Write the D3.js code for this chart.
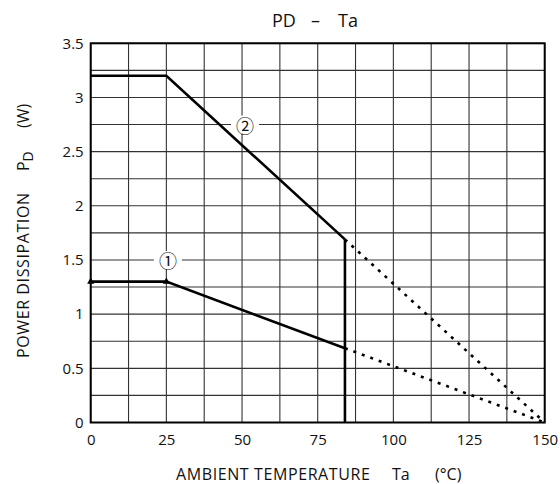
<!DOCTYPE html>
<html><head><meta charset="utf-8">
<script src="https://cdn.jsdelivr.net/npm/d3@7"></script>
<style>body{margin:0;background:#fff}svg{display:block}text{font-family:"Open Sans",sans-serif;fill:#111}</style>
</head><body>
<script>
const xTicks = [0, 25, 50, 75, 100, 125, 150];
const yTicks = [0, 0.5, 1, 1.5, 2, 2.5, 3, 3.5];
const xGrid = d3.range(0, 150.1, 12.5);
const yGrid = d3.range(0, 3.51, 0.25);
// curve 2 (solid + dotted)
const c2Solid = [[0, 3.2], [25, 3.2], [84, 1.69]];
const c2Dotted = [[84, 1.69], [150, 0]];
// curve 1
const c1Solid = [[0, 1.3], [25, 1.3], [84, 0.686]];
const c1Dotted = [[84, 0.686], [150, 0]];
const limitLine = [[84, 1.69], [84, 0]];
const c1Markers = [[0, 1.3], [25, 1.3]];
const labels = [{t: "②", x: 51, y: 2.75}, {t: "①", x: 25.5, y: 1.5}];

const W = 560, H = 484;
const svg = d3.select("body").append("svg").attr("width", W).attr("height", H);
const x = d3.scaleLinear().domain([0, 150]).range([90.7, 544.7]);
const y = d3.scaleLinear().domain([0, 3.5]).range([422.5, 43.3]);

const g = svg.append("g");
g.selectAll(".vg").data(xGrid).join("line")
  .attr("x1", d => x(d)).attr("x2", d => x(d)).attr("y1", y(0)).attr("y2", y(3.5))
  .attr("stroke", "#333").attr("stroke-width", 1.1);
g.selectAll(".hg").data(yGrid).join("line")
  .attr("y1", d => y(d)).attr("y2", d => y(d)).attr("x1", x(0)).attr("x2", x(150))
  .attr("stroke", "#333").attr("stroke-width", 1.1);

// label backgrounds
labels.forEach(l => {
  g.append("rect").attr("x", x(l.x) - 14).attr("y", y(l.y) - 9).attr("width", 28).attr("height", 18).attr("fill", "#fff");
  g.append("text").attr("x", x(l.x)).attr("y", y(l.y)).attr("text-anchor", "middle").attr("dominant-baseline", "central")
    .style("font-family", '"Noto Sans CJK JP",sans-serif').attr("font-size", 18).text(l.t);
});

g.append("rect").attr("x", x(0)).attr("y", y(3.5)).attr("width", x(150) - x(0)).attr("height", y(0) - y(3.5))
  .attr("fill", "none").attr("stroke", "#000").attr("stroke-width", 2);

const line = d3.line().x(d => x(d[0])).y(d => y(d[1]));
[c2Solid, c1Solid, limitLine].forEach(d => g.append("path").attr("d", line(d)).attr("fill", "none").attr("stroke", "#000").attr("stroke-width", 2.6));
[c2Dotted, c1Dotted].forEach(d => g.append("path").attr("d", line(d)).attr("fill", "none").attr("stroke", "#000").attr("stroke-width", 2.6).attr("stroke-dasharray", "3,6"));
g.selectAll(".mk").data(c1Markers).join("path")
  .attr("transform", d => `translate(${x(d[0])},${y(d[1])})`)
  .attr("d", d3.symbol(d3.symbolTriangle, 22)).attr("fill", "#000");

// axes tick labels
const xAxis = d3.axisBottom(x).tickValues(xTicks).tickSize(0).tickPadding(12).tickFormat(d3.format("d"));
const ax = svg.append("g").attr("transform", `translate(0,${y(0)})`).call(xAxis);
ax.select(".domain").remove();
ax.selectAll("text").attr("font-size", 15).attr("fill", "#111");
const yAxis = d3.axisLeft(y).tickValues(yTicks).tickSize(0).tickPadding(7).tickFormat(d => d);
const ay = svg.append("g").attr("transform", `translate(${x(0)},0)`).call(yAxis);
ay.select(".domain").remove();
ay.selectAll("text").attr("font-size", 15).attr("fill", "#111");

// title
[["PD", 272], ["–", 311], ["Ta", 338]].forEach(([t, px]) =>
  svg.append("text").attr("x", px).attr("y", 27).attr("font-size", 18).text(t));
// x title
[["AMBIENT TEMPERATURE", 176], ["Ta", 392], ["(°C)", 435]].forEach(([t, px]) =>
  svg.append("text").attr("x", px).attr("y", 480).attr("font-size", 16).attr("letter-spacing", t.length > 5 ? 0.6 : 0).text(t));
// y title
const yg = svg.append("g").attr("transform", "translate(29,0) rotate(-90)");
yg.append("text").attr("x", -358).attr("y", 0).attr("font-size", 16).attr("letter-spacing", 0.6).text("POWER DISSIPATION");
const pd = yg.append("text").attr("x", -171).attr("y", 0).attr("font-size", 16);
pd.append("tspan").text("P");
pd.append("tspan").attr("font-size", 14).attr("dy", 4).text("D");
yg.append("text").attr("x", -128).attr("y", 0).attr("font-size", 16).text("(W)");
</script>
</body></html>
